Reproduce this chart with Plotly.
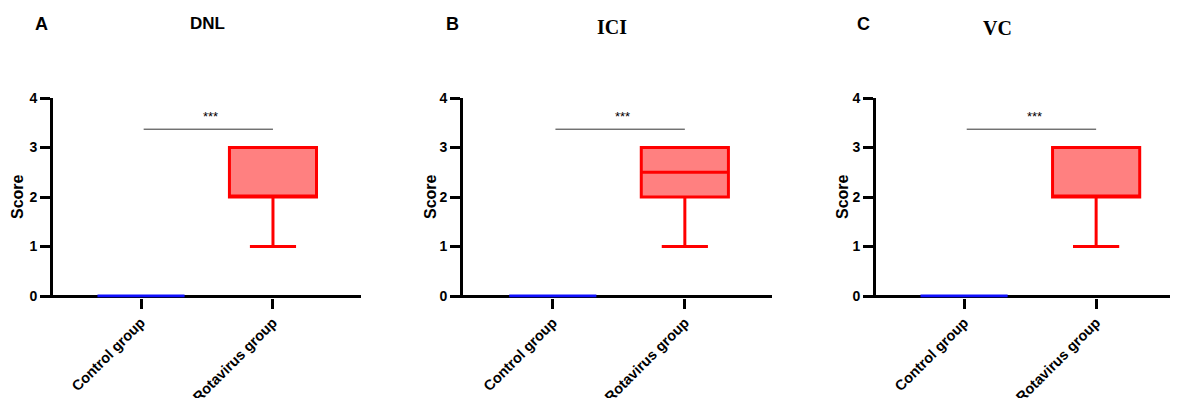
import plotly.graph_objects as go

categories = ["Control group", "Rotavirus group"]
panel_letters = ["A", "B", "C"]
panel_titles = ["DNL", "ICI", "VC"]

# Box statistics per panel (control group is all zeros)
control_stats = {"min": 0, "q1": 0, "median": 0, "q3": 0, "max": 0}
rota_min = [1, 1, 1]
rota_q1 = [2, 2, 2]
rota_median = [2, 2.5, 2]
rota_q3 = [3, 3, 3]
rota_max = [3, 3, 3]
sig_label = "***"
sig_y = 3.37

y_ticks = [0, 1, 2, 3, 4]

FONT = "Arial, Liberation Sans, sans-serif"
SERIF = "Times New Roman, Liberation Serif, serif"

# page has an 8px body margin: figure is 1170x390 placed at (8, 8)
W, H, OFF = 1170, 390, 8
def xp(p):
    return (p - OFF) / W
def yp(p):
    return 1 - (p - OFF) / H

fig = go.Figure()

x_domains = [[xp(53), xp(361)], [xp(463), xp(772)], [xp(876), 1.0]]
x_ranges = [[-0.667, 1.667], [-0.68, 1.66], [-0.667, 1.62]]
y_domain = [yp(297.5), yp(98)]

for i in range(3):
    xa = "x" if i == 0 else f"x{i+1}"
    ya = "y" if i == 0 else f"y{i+1}"
    fig.add_trace(go.Box(
        x=[categories[0]], q1=[control_stats["q1"]], median=[control_stats["median"]],
        q3=[control_stats["q3"]], lowerfence=[control_stats["min"]], upperfence=[control_stats["max"]],
        width=0.66, whiskerwidth=0.5, line=dict(color="#1010ff", width=3),
        fillcolor="rgba(0,0,255,0.3)", boxpoints=False, xaxis=xa, yaxis=ya,
        showlegend=False, hoverinfo="skip"))
    fig.add_trace(go.Box(
        x=[categories[1]], q1=[rota_q1[i]], median=[rota_median[i]],
        q3=[rota_q3[i]], lowerfence=[rota_min[i]], upperfence=[rota_max[i]],
        width=0.66, whiskerwidth=0.53, line=dict(color="#ff0000", width=3),
        fillcolor="#ff8080", boxpoints=False, xaxis=xa, yaxis=ya,
        showlegend=False, hoverinfo="skip"))

    sfx = "" if i == 0 else str(i+1)
    fig.update_layout(**{
        f"xaxis{sfx}": dict(
            domain=x_domains[i], range=x_ranges[i], type="category",
            categoryorder="array", categoryarray=categories, automargin=False,
            anchor=ya, showline=False, showgrid=False, zeroline=False,
            ticks="outside", ticklen=10, tickwidth=3, tickcolor="black",
            tickangle=-45, tickfont=dict(family=FONT, size=14.5, color="black", weight="bold"),
        ),
        f"yaxis{sfx}": dict(
            domain=y_domain, range=[-0.03, 4], anchor=xa, automargin=False,
            tickvals=y_ticks, showline=True, linewidth=3, linecolor="black",
            ticks="outside", ticklen=10, tickwidth=3, tickcolor="black",
            showgrid=False, zeroline=True, zerolinecolor="black", zerolinewidth=3,
            tickfont=dict(family=FONT, size=14, color="black", weight="bold"),
        ),
    })
    # significance bar
    fig.add_shape(type="line", xref=xa, yref=ya, x0=0.02, x1=1.0, y0=sig_y, y1=sig_y,
                  line=dict(color="#333333", width=1))
    fig.add_annotation(xref=xa, yref=ya, x=0.53, y=sig_y + 0.06, text=sig_label,
                       showarrow=False, xanchor="center", yanchor="bottom",
                       font=dict(family=FONT, size=13, color="black"))

# Y titles
score_x = [17, 430, 842]
for i in range(3):
    fig.add_annotation(xref="paper", yref="paper", x=xp(score_x[i]), y=yp(197),
                       xanchor="center", yanchor="middle",
                       text="<b>Score</b>", textangle=-90, showarrow=False,
                       font=dict(family=FONT, size=16, color="black"))

# Panel letters and titles
letter_x = [41, 452, 863]
title_x = [207, 612, 997]
title_y = [24, 27, 28]
title_fonts = [FONT, SERIF, SERIF]
title_sizes = [17, 20, 20]
for i in range(3):
    fig.add_annotation(xref="paper", yref="paper", x=xp(letter_x[i]), y=yp(24),
                       xanchor="center", yanchor="middle",
                       text=f"<b>{panel_letters[i]}</b>", showarrow=False,
                       font=dict(family=FONT, size=18, color="black"))
    fig.add_annotation(xref="paper", yref="paper", x=xp(title_x[i]), y=yp(title_y[i]),
                       xanchor="center", yanchor="middle",
                       text=f"<b>{panel_titles[i]}</b>", showarrow=False,
                       font=dict(family=title_fonts[i], size=title_sizes[i], color="black"))

fig.update_layout(width=W, height=H, margin=dict(l=0, r=0, t=0, b=0),
                  paper_bgcolor="white", plot_bgcolor="white", boxmode="overlay")

fig.write_html("out.html")
